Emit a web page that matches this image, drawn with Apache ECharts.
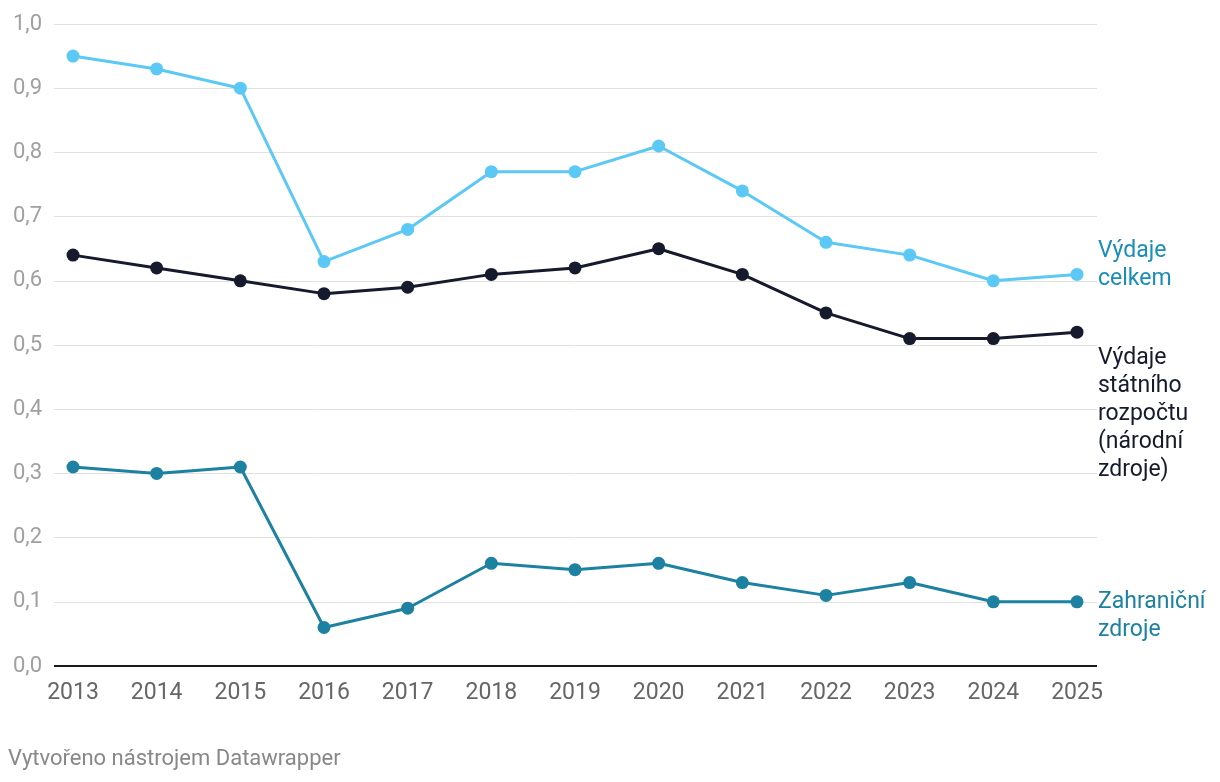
<!DOCTYPE html>
<html>
<head>
<meta charset="utf-8">
<script src="https://cdn.jsdelivr.net/npm/echarts@6/dist/echarts.min.js"></script>
<style>
html,body{margin:0;padding:0;background:#fff;}
#c{width:1220px;height:782px;}
</style>
</head>
<body>
<div id="c"></div>
<script>
const years = ['2013','2014','2015','2016','2017','2018','2019','2020','2021','2022','2023','2024','2025'];
const vydajeCelkem = [0.95,0.93,0.90,0.63,0.68,0.77,0.77,0.81,0.74,0.66,0.64,0.60,0.61];
const vydajeSR = [0.64,0.62,0.60,0.58,0.59,0.61,0.62,0.65,0.61,0.55,0.51,0.51,0.52];
const zahranicni = [0.31,0.30,0.31,0.06,0.09,0.16,0.15,0.16,0.13,0.11,0.13,0.10,0.10];
const seriesNames = ['Výdaje\ncelkem','Výdaje\nstátního\nrozpočtu\n(národní\nzdroje)','Zahraniční\nzdroje'];
const footer = 'Vytvořeno nástrojem Datawrapper';

const chart = echarts.init(document.getElementById('c'), null, {renderer:'canvas'});
const FONT = 'Roboto, "Noto Sans", sans-serif';
function mk(name, data, color, labelColor, offY){
  return {
    type:'line', name:name, data:data, xAxisIndex:1, yAxisIndex:1,
    lineStyle:{color:color,width:3}, itemStyle:{color:color},
    symbol:'circle', symbolSize:13, showSymbol:true,
    endLabel:{show:true, formatter:name, color:labelColor, fontSize:23, lineHeight:28,
      fontFamily:FONT, distance:21, offset:[0,offY], align:'left'},
    z:3, animation:false
  };
}
chart.setOption({
  animation:false,
  grid:[
    {left:54, right:1220-1097, top:24, bottom:116},
    {left:73, right:1220-1077, top:24, bottom:116}
  ],
  xAxis:[
    {type:'category', gridIndex:0, data:years, show:false},
    {type:'category', gridIndex:1, data:years, boundaryGap:false,
     axisLine:{show:false}, axisTick:{show:false},
     axisLabel:{color:'#666', fontSize:23, fontFamily:FONT, margin:16}}
  ],
  yAxis:[
    {type:'value', gridIndex:0, min:0, max:1, interval:0.1,
     axisLine:{show:false}, axisTick:{show:false},
     splitLine:{lineStyle:{color:'#e1e1e1', width:1}},
     axisLabel:{color:'#a0a0a0', fontSize:22, fontFamily:FONT, margin:12,
       formatter:v=>v.toFixed(1).replace('.',','), align:'right'}},
    {type:'value', gridIndex:1, min:0, max:1, interval:0.1, show:false, splitLine:{show:false}}
  ],
  graphic:[
    {type:'text', left:8, top:748, style:{text:footer, fill:'#888', font:'22px '+FONT}},
    {type:'line', shape:{x1:54,y1:666,x2:1097,y2:666}, style:{stroke:'#1a1a1a', lineWidth:2}, z:10}
  ],
  series:[
    mk(seriesNames[0], vydajeCelkem, '#5bc8f5', '#1a8dbb', -9),
    mk(seriesNames[1], vydajeSR, '#151a2c', '#151a2c', 82),
    mk(seriesNames[2], zahranicni, '#1d81a2', '#1d81a2', 14)
  ]
});
</script>
</body>
</html>
